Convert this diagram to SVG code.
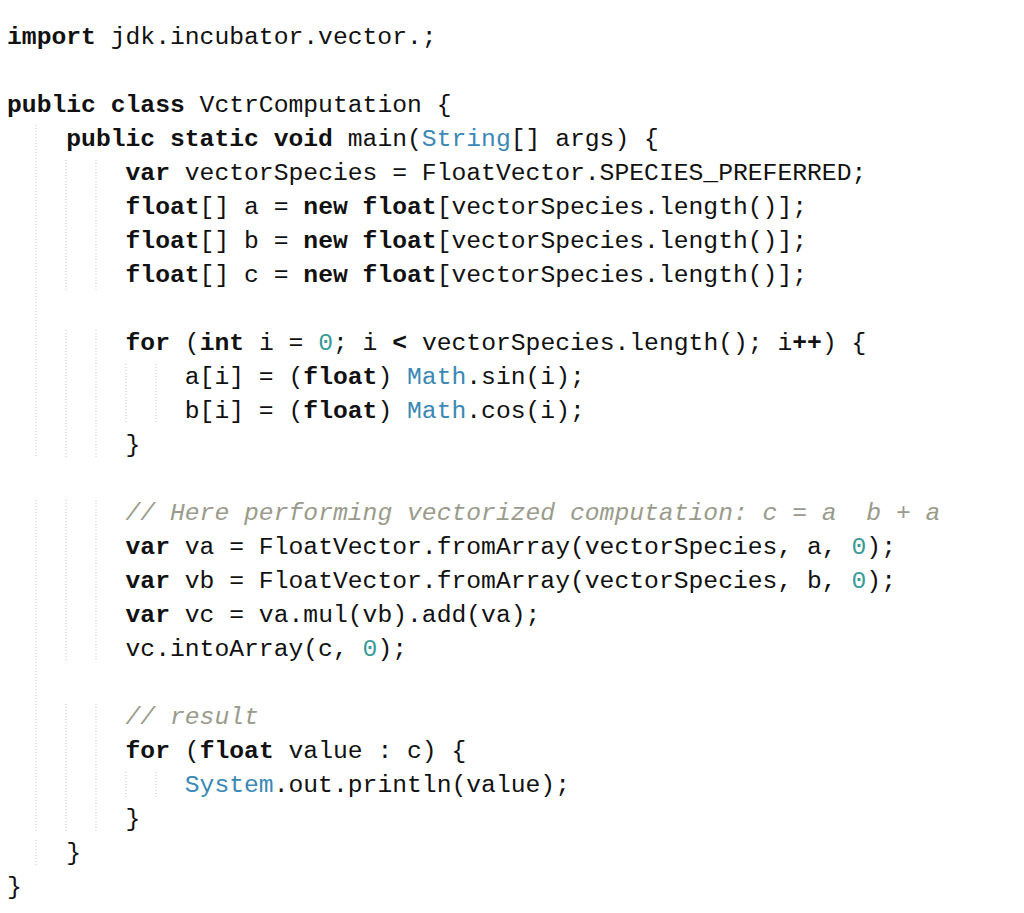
<svg xmlns="http://www.w3.org/2000/svg" width="1024" height="913" viewBox="0 0 1024 913">
<style>
text{font-family:"Liberation Mono","DejaVu Sans Mono",monospace;font-size:24.7px;fill:#111;white-space:pre}
.k{font-weight:bold}
.t{fill:#3b88b5}
.n{fill:#3a9a98}
.c{fill:#9a9b8c;font-style:italic}
.g{stroke:#c8c8c8;stroke-width:1;stroke-dasharray:1 2}
</style>
<rect width="1024" height="913" fill="#fff"/>
<g id="guides">
<path class="g" d="M36 125V458M66 160V290M96 160V290M66 330V458M96 330V458M36 500V832M66 500V662M96 500V662M66 704V832M96 704V832M36 840V866M126 364V424M156 364V424M126 772V798M156 772V798"/>
</g>
<g id="code" xml:space="preserve">
<text x="7" y="44"><tspan class="k">import</tspan> jdk.incubator.vector.;</text>
<text x="7" y="112"><tspan class="k">public class</tspan> VctrComputation {</text>
<text x="7" y="146">    <tspan class="k">public static void</tspan> main(<tspan class="t">String</tspan>[] args) {</text>
<text x="7" y="180">        <tspan class="k">var</tspan> vectorSpecies = FloatVector.SPECIES_PREFERRED;</text>
<text x="7" y="214">        <tspan class="k">float</tspan>[] a = <tspan class="k">new float</tspan>[vectorSpecies.length()];</text>
<text x="7" y="248">        <tspan class="k">float</tspan>[] b = <tspan class="k">new float</tspan>[vectorSpecies.length()];</text>
<text x="7" y="282">        <tspan class="k">float</tspan>[] c = <tspan class="k">new float</tspan>[vectorSpecies.length()];</text>
<text x="7" y="350">        <tspan class="k">for</tspan> (<tspan class="k">int</tspan> i = <tspan class="n">0</tspan>; i <tspan class="k">&lt;</tspan> vectorSpecies.length(); i<tspan class="k">++</tspan>) {</text>
<text x="7" y="384">            a[i] = (<tspan class="k">float</tspan>) <tspan class="t">Math</tspan>.sin(i);</text>
<text x="7" y="418">            b[i] = (<tspan class="k">float</tspan>) <tspan class="t">Math</tspan>.cos(i);</text>
<text x="7" y="452">        }</text>
<text x="7" y="520">        <tspan class="c">// Here performing vectorized computation: c = a  b + a</tspan></text>
<text x="7" y="554">        <tspan class="k">var</tspan> va = FloatVector.fromArray(vectorSpecies, a, <tspan class="n">0</tspan>);</text>
<text x="7" y="588">        <tspan class="k">var</tspan> vb = FloatVector.fromArray(vectorSpecies, b, <tspan class="n">0</tspan>);</text>
<text x="7" y="622">        <tspan class="k">var</tspan> vc = va.mul(vb).add(va);</text>
<text x="7" y="656">        vc.intoArray(c, <tspan class="n">0</tspan>);</text>
<text x="7" y="724">        <tspan class="c">// result</tspan></text>
<text x="7" y="758">        <tspan class="k">for</tspan> (<tspan class="k">float</tspan> value : c) {</text>
<text x="7" y="792">            <tspan class="t">System</tspan>.out.println(value);</text>
<text x="7" y="826">        }</text>
<text x="7" y="860">    }</text>
<text x="7" y="894">}</text>
</g>
</svg>
